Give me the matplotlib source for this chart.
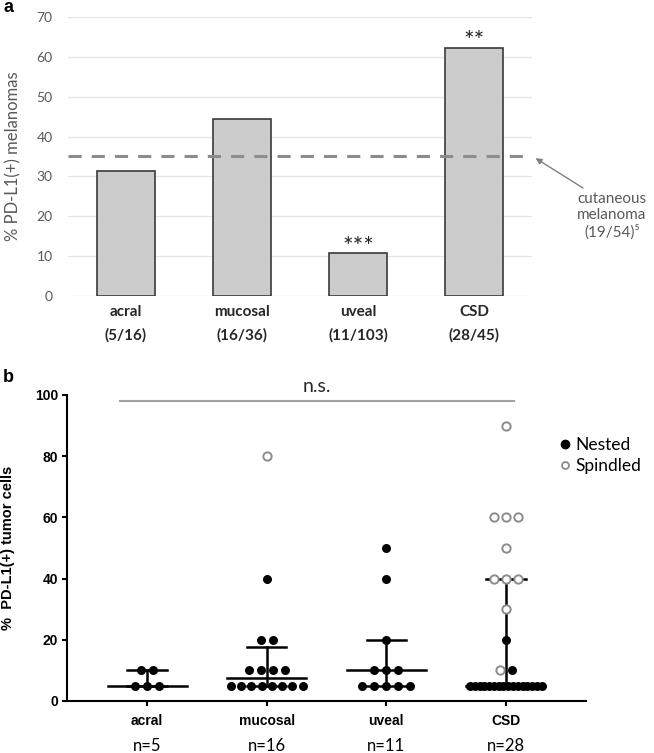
import numpy as np
import matplotlib
matplotlib.use("Agg")
from matplotlib import pyplot as plt
from matplotlib.lines import Line2D

# panel a: fraction of PD-L1(+) melanomas per subtype
subtypes = ["acral", "mucosal", "uveal", "CSD"]
n_positive = [5, 16, 11, 28]
n_total = [16, 36, 103, 45]
stars = ["", "", "***", "**"]
cutaneous_positive, cutaneous_total = 19, 54

# panel b: % PD-L1(+) tumor cells per case
nested = {
    "acral": [5, 5, 5, 10, 10],
    "mucosal": [5, 5, 5, 5, 5, 5, 5, 5, 10, 10, 10, 10, 20, 20, 40],
    "uveal": [5, 5, 5, 5, 5, 10, 10, 10, 20, 40, 50],
    "CSD": [5, 5, 5, 5, 5, 5, 5, 5, 5, 5, 5, 5, 5, 5, 5, 5, 10, 20],
}
spindled = {
    "acral": [],
    "mucosal": [80],
    "uveal": [],
    "CSD": [10, 30, 40, 40, 40, 50, 60, 60, 60, 90],
}

W, H = 654, 753
fig = plt.figure(figsize=(W / 100, H / 100), dpi=100)

sans = ["Lato", "DejaVu Sans"]
arial = ["Liberation Sans", "DejaVu Sans"]
grey_txt = "#595959"

# ---------------- panel a ----------------
ax_a = fig.add_axes([68 / W, 1 - 296 / H, 464 / W, 279 / H])
x = np.arange(len(subtypes))
pct = [100 * p / t for p, t in zip(n_positive, n_total)]
ax_a.bar(x, pct, width=0.5, color="#cccccc", edgecolor="#3a3a3a",
         linewidth=1.2, zorder=2)
ax_a.set_xlim(-0.5, 3.5)
ax_a.set_ylim(0, 70)
ax_a.set_yticks(range(0, 71, 10))
ax_a.yaxis.grid(True, color="#e6e6e6", linewidth=1, zorder=0)
ax_a.set_axisbelow(True)
for s in ax_a.spines.values():
    s.set_visible(False)
ax_a.tick_params(axis="y", length=0, pad=11, labelcolor=grey_txt, labelsize=10)
for lab in ax_a.get_yticklabels():
    lab.set_family(sans)
ax_a.set_xticks([])
ax_a.set_ylabel("% PD-L1(+) melanomas", family=sans, fontsize=12, color=grey_txt)
ax_a.yaxis.set_label_coords(-0.1, 0.5)

for xi, name, p, t in zip(x, subtypes, n_positive, n_total):
    ax_a.text(xi, -0.057, name, transform=ax_a.get_xaxis_transform(), ha="center",
              va="center", family=sans, fontsize=11, fontweight="bold", color="#262626")
    ax_a.text(xi, -0.14, f"({p}/{t})", transform=ax_a.get_xaxis_transform(), ha="center",
              va="center", family=sans, fontsize=11, fontweight="bold", color="#262626")

for xi, h, st in zip(x, pct, stars):
    if st:
        ax_a.annotate(st, xy=(xi, h), xytext=(0, -1), textcoords="offset points",
                      ha="center", va="baseline", family=sans, fontsize=18,
                      color="#262626")

cut_pct = 100 * cutaneous_positive / cutaneous_total
ax_a.plot([-0.5, 3.48], [cut_pct, cut_pct], color="#8c8c8c", linewidth=2.2,
          linestyle=(0, (4.3, 3.3)), zorder=3, clip_on=False)
ax_a.annotate("", xy=(3.53, cut_pct - 0.6), xycoords="data",
              xytext=(583 / W, 1 - 188 / H), textcoords="figure fraction",
              annotation_clip=False,
              arrowprops=dict(arrowstyle="-|>", color="#808080", lw=1,
                              mutation_scale=9, shrinkA=0, shrinkB=0))
fig.text(612 / W, 1 - 216 / H,
         f"cutaneous\nmelanoma\n({cutaneous_positive}/{cutaneous_total})\u2075",
         ha="center", va="center", family=sans, fontsize=11, color=grey_txt,
         linespacing=1.2)

# ---------------- panel b ----------------
ax_b = fig.add_axes([67 / W, 1 - 701 / H, 519 / W, 306 / H])
ax_b.set_xlim(-0.67, 3.67)
ax_b.set_ylim(0, 100)
ax_b.set_yticks(range(0, 101, 20))
ax_b.set_xticks(x)
ax_b.set_xticklabels(subtypes)
ax_b.spines["top"].set_visible(False)
ax_b.spines["right"].set_visible(False)
ax_b.spines["left"].set_linewidth(1.5)
ax_b.spines["bottom"].set_linewidth(1.5)
ax_b.tick_params(direction="out", length=3.5, width=1.5, labelsize=10, pad=3)
ax_b.tick_params(axis="x", pad=6)
for lab in ax_b.get_xticklabels() + ax_b.get_yticklabels():
    lab.set_family(arial)
    lab.set_fontweight("bold")
ax_b.set_ylabel("%  PD-L1(+) tumor cells", family=arial, fontsize=10.5, fontweight="bold")
ax_b.yaxis.set_label_coords(-0.1, 0.5)

for xi, name in zip(x, subtypes):
    vals = np.array(nested[name] + spindled[name], dtype=float)
    kind = ["n"] * len(nested[name]) + ["s"] * len(spindled[name])
    q1, med, q3 = np.percentile(vals, [25, 50, 75], method="weibull")

    ax_b.plot([xi - 0.33, xi + 0.33], [med, med], color="black", lw=1.8, zorder=2)
    ax_b.plot([xi, xi], [q1, q3], color="black", lw=1.8, zorder=2)
    for q in (q1, q3):
        ax_b.plot([xi - 0.165, xi + 0.165], [q, q], color="black", lw=1.8, zorder=2)

    for v in np.unique(vals):
        idx = [i for i in range(len(vals)) if vals[i] == v]
        idx.sort(key=lambda i: 0 if kind[i] == "s" else 1)
        k = len(idx)
        step = min(0.1, 0.6 / (k - 1)) if k > 1 else 0
        offs = (np.arange(k) - (k - 1) / 2) * step
        for o, i in zip(offs, idx):
            if kind[i] == "n":
                ax_b.scatter(xi + o, v, s=42, color="black", zorder=3, linewidths=0)
            else:
                ax_b.scatter(xi + o, v, s=36, facecolors="white", edgecolors="#8c8c8c",
                             linewidths=1.4, zorder=3)

    ax_b.text(xi, -0.147, f"n={len(vals)}", transform=ax_b.get_xaxis_transform(),
              ha="center", va="center", family=sans, fontsize=12, color="black")

ax_b.plot([-0.225, 3.07], [98, 98], color="#a0a0a0", lw=1.5, clip_on=False)
ax_b.text((-0.225 + 3.07) / 2, 102.8, "n.s.", ha="center", va="center", family=sans,
          fontsize=14, color="#262626")

handles = [
    Line2D([], [], marker="o", linestyle="none", color="black", markersize=6),
    Line2D([], [], marker="o", linestyle="none", markerfacecolor="white",
           markeredgecolor="#8c8c8c", markeredgewidth=1.3, markersize=5),
]
ax_b.legend(handles, ["Nested", "Spindled"], loc="upper left",
            bbox_to_anchor=(0.93, 0.885), frameon=False, handletextpad=0.1,
            handlelength=1.0, labelspacing=0.3, borderaxespad=0,
            prop={"family": sans, "size": 12.5})

fig.text(8 / W, 1 - 8 / H, "a", family=arial, fontweight="bold", fontsize=13,
         ha="center", va="center")
fig.text(8 / W, 1 - 377 / H, "b", family=arial, fontweight="bold", fontsize=13,
         ha="center", va="center")

fig.savefig("out.png", dpi=100)
